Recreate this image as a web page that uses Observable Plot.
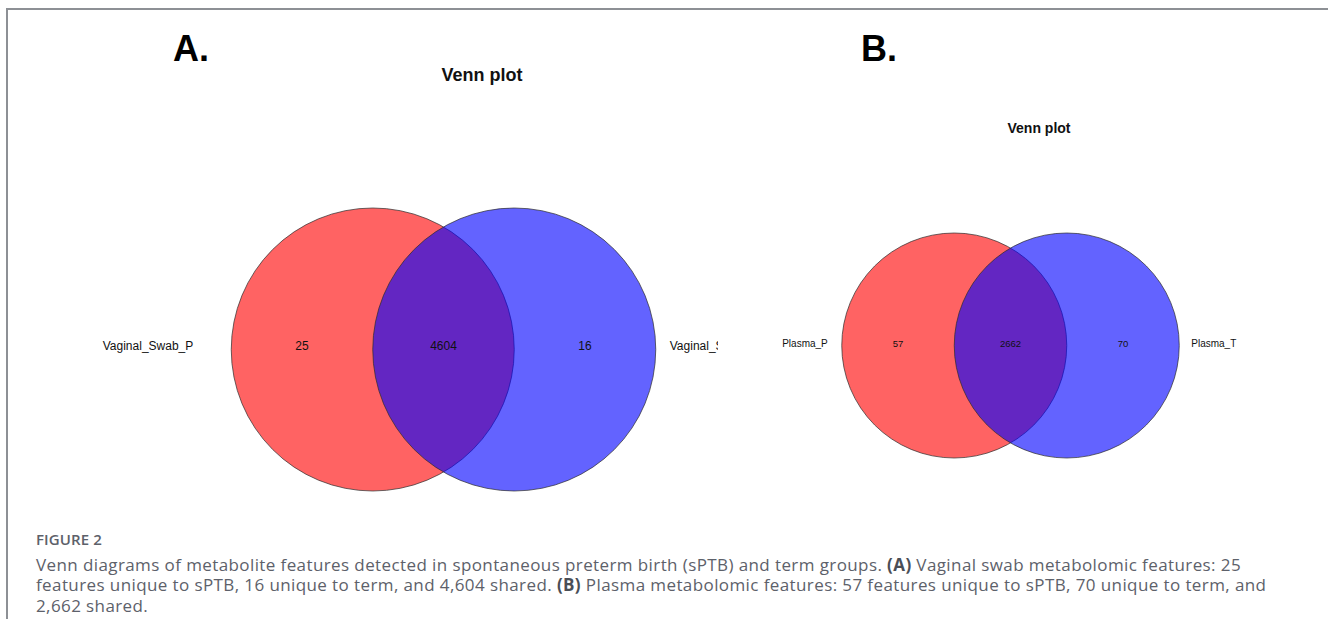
<!DOCTYPE html>
<html>
<head>
<meta charset="utf-8">
<script src="https://cdn.jsdelivr.net/npm/d3@7"></script>
<script src="https://cdn.jsdelivr.net/npm/@observablehq/plot@0.6"></script>
<style>
  html, body { margin: 0; padding: 0; background: #fff; }
  #page { position: relative; width: 1328px; height: 619px; overflow: hidden; background: #fff; }
  #frame { position: absolute; left: 6px; top: 8px; right: 0; bottom: -10px;
           border-top: 2px solid #8d9095; border-left: 2px solid #8d9095; }
  .tag { position: absolute; font: bold 36px "Liberation Sans", Arial, sans-serif; color: #000; line-height: 1; }
  .vtitle { position: absolute; font-family: "Liberation Sans", Arial, sans-serif; font-weight: bold; color: #111;
            transform: translateX(-50%); white-space: nowrap; line-height: 1; }
  .panel { position: absolute; overflow: hidden; }
  .panel svg { position: absolute; top: 0; background: transparent; max-width: none !important; }
  #caption { position: absolute; left: 36px; top: 529px; font-family: "Open Sans", sans-serif; color: #5d616a; }
  #caption .fig { font-size: 15px; font-weight: 600; letter-spacing: 0.1px; line-height: 20px; margin-bottom: 6px; }
  #caption .line { font-size: 17px; letter-spacing: 0.4px; line-height: 20.4px; white-space: nowrap; }
  #caption b { font-weight: 700; color: #4a4e56; }
</style>
</head>
<body>
<div id="page">
  <div id="frame"></div>
  <div class="tag" style="left:173px; top:31px;">A.</div>
  <div class="tag" style="left:861px; top:31px;">B.</div>
  <div class="vtitle" style="left:482px; top:66px; font-size:18px;">Venn plot</div>
  <div class="vtitle" style="left:1039px; top:121px; font-size:14px;">Venn plot</div>
  <div id="panelA" class="panel"></div>
  <div id="panelB" class="panel"></div>
  <div id="caption">
    <div class="fig">FIGURE 2</div>
    <div class="line">Venn diagrams of metabolite features detected in spontaneous preterm birth (sPTB) and term groups. <b>(A)</b> Vaginal swab metabolomic features: 25</div>
    <div class="line">features unique to sPTB, 16 unique to term, and 4,604 shared. <b>(B)</b> Plasma metabolomic features: 57 features unique to sPTB, 70 unique to term, and</div>
    <div class="line">2,662 shared.</div>
  </div>
</div>
<script>
// Set names and region counts: [only first set, shared, only second set]
const vaginalSets = ["Vaginal_Swab_P", "Vaginal_Swab_T"];
const vaginalCounts = [25, 4604, 16];
const plasmaSets = ["Plasma_P", "Plasma_T"];
const plasmaCounts = [57, 2662, 70];
const setColors = ["#ff0000", "#0000ff"];

// Two equal circles whose centres are one radius apart (unscaled pairwise Venn layout).
function vennPanel(sets, counts, opt) {
  const circles = sets.map((name, i) => ({name, cx: i === 0 ? -0.5 : 0.5, cy: 0, r: 1, color: setColors[i]}));
  // region label positions: midpoints of each region along the centre line
  const regions = counts.map((n, i) => ({n, x: [-1, 0, 1][i], y: 0}));
  const labels = circles.map((c, i) => ({name: c.name, x: c.cx + (i === 0 ? -1 : 1) * c.r, y: 0, side: i}));
  const halfW = opt.width / 2 / opt.unit, halfH = opt.height / 2 / opt.unit;
  const font = "Liberation Sans, Arial, sans-serif";
  return Plot.plot({
    width: opt.width,
    height: opt.height,
    margin: 0,
    style: {background: "transparent", overflow: "visible", maxWidth: "none"},
    x: {domain: [-halfW, halfW], axis: null},
    y: {domain: [-halfH, halfH], axis: null},
    r: {type: "linear", domain: [0, 1], range: [0, opt.unit]},
    color: {type: "identity"},
    marks: [
      Plot.dot(circles, {x: "cx", y: "cy", r: "r", fill: "color", fillOpacity: 0.61,
                         stroke: "#2b2b2b", strokeWidth: 0.7, sort: null}),
      Plot.text(regions, {x: "x", y: "y", text: d => String(d.n), fontSize: opt.countSize,
                          fontFamily: font, fill: "#111", dy: opt.textDy}),
      Plot.text(labels.filter(d => d.side === 0), {x: "x", y: "y", text: "name", textAnchor: "end",
                          dx: -opt.gapLeft, dy: opt.textDy, fontSize: opt.labelSize, fontFamily: font, fill: "#111"}),
      Plot.text(labels.filter(d => d.side === 1), {x: "x", y: "y", text: "name", textAnchor: "start",
                          dx: opt.gapRight, dy: opt.textDy, fontSize: opt.labelSize, fontFamily: font, fill: "#111"})
    ]
  });
}

// The left panel is framed so that its right-hand set label runs off the panel edge.
function place(id, chart, opt) {
  const box = document.getElementById(id);
  box.style.left = opt.clipLeft + "px";
  box.style.width = (opt.clipRight - opt.clipLeft) + "px";
  box.style.top = (opt.cy - opt.height / 2) + "px";
  box.style.height = opt.height + "px";
  chart.style.left = (opt.cx - opt.width / 2 - opt.clipLeft) + "px";
  chart.style.maxWidth = "none";
  box.appendChild(chart);
}

const optA = {cx: 442.75, cy: 348.5, unit: 141.5, width: 880, height: 320, textDy: -3,
              clipLeft: 8, clipRight: 718, countSize: 12, labelSize: 12, gapLeft: 38, gapRight: 14};
const optB = {cx: 1009.75, cy: 345, unit: 112.5, width: 520, height: 260, textDy: -2,
              clipLeft: 740, clipRight: 1320, countSize: 9.5, labelSize: 10, gapLeft: 14, gapRight: 12};

place("panelA", vennPanel(vaginalSets, vaginalCounts, optA), optA);
place("panelB", vennPanel(plasmaSets, plasmaCounts, optB), optB);
</script>
</body>
</html>
